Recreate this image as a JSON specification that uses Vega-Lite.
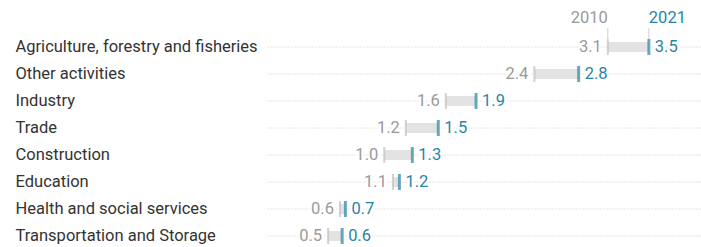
{
  "$schema": "https://vega.github.io/schema/vega-lite/v6.json",
  "autosize": {"type": "none"},
  "width": 434,
  "height": 216,
  "padding": {"left": 267, "top": 33.5, "right": 0, "bottom": 0},
  "background": "white",
  "config": {
    "view": {"stroke": null},
    "font": "Roboto",
    "text": {"font": "Roboto", "fontSize": 16.5}
  },
  "data": {
    "values": [
      {"cat": "Agriculture, forestry and fisheries", "v2010": 3.10, "v2021": 3.48},
      {"cat": "Other activities", "v2010": 2.42, "v2021": 2.83},
      {"cat": "Industry", "v2010": 1.60, "v2021": 1.88},
      {"cat": "Trade", "v2010": 1.23, "v2021": 1.53},
      {"cat": "Construction", "v2010": 1.03, "v2021": 1.29},
      {"cat": "Education", "v2010": 1.11, "v2021": 1.17},
      {"cat": "Health and social services", "v2010": 0.62, "v2021": 0.67},
      {"cat": "Transportation and Storage", "v2010": 0.51, "v2021": 0.64}
    ]
  },
  "encoding": {
    "y": {
      "field": "cat", "type": "nominal", "sort": null,
      "scale": {"paddingInner": 0, "paddingOuter": 0},
      "axis": {
        "title": null, "domain": false, "ticks": false,
        "labelAlign": "left", "labelPadding": 252, "labelLimit": 0,
        "labelFont": "Roboto", "labelFontSize": 16.5, "labelColor": "#333333",
        "grid": true, "gridDash": [1, 2], "gridColor": "#cccccc", "gridWidth": 1,
        "bandPosition": 0.5
      }
    }
  },
  "layer": [
    {
      "mark": {"type": "bar", "height": 10, "color": "#e3e3e3"},
      "encoding": {
        "x": {"field": "v2010", "type": "quantitative", "scale": {"domain": [-0.056, 3.963], "nice": false, "zero": false}, "axis": null},
        "x2": {"field": "v2021"}
      }
    },
    {
      "mark": {"type": "tick", "orient": "vertical", "thickness": 2, "size": 16, "color": "#bfbfbf"},
      "encoding": {"x": {"field": "v2010", "type": "quantitative"}}
    },
    {
      "mark": {"type": "tick", "orient": "vertical", "thickness": 3, "size": 16, "color": "#2a84a5"},
      "encoding": {"x": {"field": "v2021", "type": "quantitative"}}
    },
    {
      "mark": {"type": "text", "align": "right", "dx": -6, "stroke": "white", "strokeWidth": 4, "fill": "white"},
      "encoding": {"x": {"field": "v2010", "type": "quantitative"}, "text": {"field": "v2010", "type": "quantitative", "format": ".1f"}}
    },
    {
      "mark": {"type": "text", "align": "right", "dx": -6, "color": "#9a9a9a"},
      "encoding": {"x": {"field": "v2010", "type": "quantitative"}, "text": {"field": "v2010", "type": "quantitative", "format": ".1f"}}
    },
    {
      "mark": {"type": "text", "align": "left", "dx": 6, "stroke": "white", "strokeWidth": 4, "fill": "white"},
      "encoding": {"x": {"field": "v2021", "type": "quantitative"}, "text": {"field": "v2021", "type": "quantitative", "format": ".1f"}}
    },
    {
      "mark": {"type": "text", "align": "left", "dx": 6, "color": "#2a84a5"},
      "encoding": {"x": {"field": "v2021", "type": "quantitative"}, "text": {"field": "v2021", "type": "quantitative", "format": ".1f"}}
    },
    {
      "data": {"values": [
        {"cat": "Agriculture, forestry and fisheries", "year": "2010", "v": 3.10},
        {"cat": "Agriculture, forestry and fisheries", "year": "2021", "v": 3.48}
      ]},
      "mark": {"type": "tick", "orient": "vertical", "thickness": 1, "size": 11, "yOffset": -13.5, "color": "#bbbbbb"},
      "encoding": {"x": {"field": "v", "type": "quantitative"}}
    },
    {
      "data": {"values": [
        {"cat": "Agriculture, forestry and fisheries", "year": "2010", "v": 3.10}
      ]},
      "mark": {"type": "text", "align": "right", "dx": 0, "dy": -29, "color": "#9a9a9a"},
      "encoding": {"x": {"field": "v", "type": "quantitative"}, "text": {"field": "year"}}
    },
    {
      "data": {"values": [
        {"cat": "Agriculture, forestry and fisheries", "year": "2021", "v": 3.48}
      ]},
      "mark": {"type": "text", "align": "left", "dx": 0, "dy": -29, "color": "#2a84a5"},
      "encoding": {"x": {"field": "v", "type": "quantitative"}, "text": {"field": "year"}}
    }
  ]
}
